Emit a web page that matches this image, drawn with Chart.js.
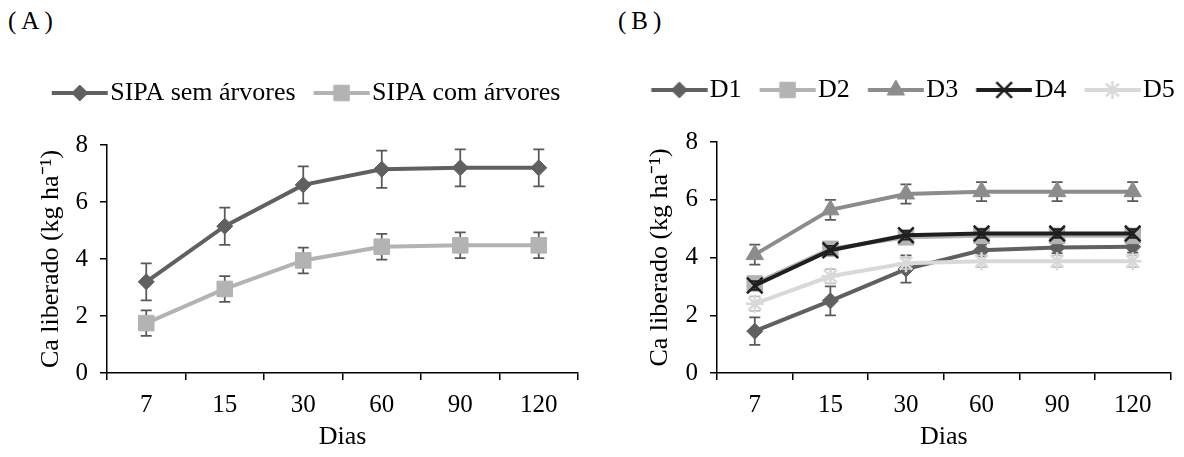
<!DOCTYPE html>
<html>
<head>
<meta charset="utf-8">
<script src="https://cdn.jsdelivr.net/npm/chart.js@4.4.1/dist/chart.umd.min.js"></script>
<style>
  body { margin: 0; background: #fff; width: 1184px; height: 457px; position: relative; overflow: hidden; }
  .tag { position: absolute; top: 8px; font-family: "Liberation Serif", "Times New Roman", serif; font-size: 25px; line-height: 25px; letter-spacing: 5px; color: #000; }
  canvas { position: absolute; top: 0; }
</style>
</head>
<body>
<div class="tag" style="left:8px">(A)</div>
<div class="tag" style="left:618px">(B)</div>
<canvas id="chartA" width="590" height="457" style="left:0"></canvas>
<canvas id="chartB" width="594" height="457" style="left:590px"></canvas>
<script>
// categories (days)
const dias = ['7', '15', '30', '60', '90', '120'];

// (A) SIPA with / without trees
const sipaSem = [3.2, 5.15, 6.6, 7.15, 7.2, 7.2];
const sipaSemErr = [0.65, 0.65, 0.65, 0.65, 0.65, 0.65];
const sipaCom = [1.75, 2.95, 3.95, 4.43, 4.48, 4.48];
const sipaComErr = [0.45, 0.45, 0.45, 0.45, 0.45, 0.45];

// (B) D1..D5
const d1 = [1.45, 2.5, 3.6, 4.25, 4.35, 4.37];
const d1Err = [0.48, 0.5, 0.47, 0.2, 0.2, 0.2];
const d2 = [3.1, 4.3, 4.7, 4.75, 4.75, 4.75];
const d2Err = [0.2, 0.2, 0.2, 0.2, 0.2, 0.2];
const d3 = [4.1, 5.65, 6.2, 6.28, 6.28, 6.28];
const d3Err = [0.35, 0.35, 0.33, 0.33, 0.33, 0.33];
const d4 = [3.03, 4.25, 4.77, 4.83, 4.83, 4.83];
const d4Err = [0.15, 0.15, 0.15, 0.15, 0.15, 0.15];
const d5 = [2.4, 3.35, 3.8, 3.87, 3.87, 3.87];
const d5Err = [0.25, 0.25, 0.2, 0.2, 0.2, 0.2];

const FONT = "'Liberation Serif', 'Times New Roman', serif";
Chart.defaults.font.family = FONT;
Chart.defaults.font.size = 25;
Chart.defaults.color = '#000';

//error bars, drawn just before each dataset so the markers sit on top
const errorBars = {
    id: 'errorBars',
    beforeDatasetDraw(chart, args) {
        const ds = chart.data.datasets[args.index];
        if (!ds.errors) return;
        const y = chart.scales.y;
        const ctx = chart.ctx;
        ctx.save();
        ctx.strokeStyle = ds.errorColor;
        ctx.lineWidth = 1.75;
        args.meta.data.forEach((pt, i) => {
            const top = y.getPixelForValue(ds.data[i] + ds.errors[i]);
            const bot = y.getPixelForValue(ds.data[i] - ds.errors[i]);
            ctx.beginPath();
            ctx.moveTo(pt.x, top); ctx.lineTo(pt.x, bot);
            ctx.moveTo(pt.x - 5.5, top); ctx.lineTo(pt.x + 5.5, top);
            ctx.moveTo(pt.x - 5.5, bot); ctx.lineTo(pt.x + 5.5, bot);
            ctx.stroke();
        });
        ctx.restore();
    }
};

//legend: keep it on one row and leave room below it before the plot starts
const legendSpace = {
    id: 'legendSpace',
    afterInit(chart, args, opts) {
        const lg = chart.legend;
        const fit = lg.fit.bind(lg);
        lg.fit = function () {
            const mw = this.maxWidth;
            this.maxWidth = mw + 60;
            fit();
            this.maxWidth = mw;
            this.width = mw;
            this.height += opts.extra;
        };
    }
};

//line + marker icon for the legend (excel style)
function legendIcon(ds) {
    const c = document.createElement('canvas');
    c.width = 83; c.height = 30;
    const ctx = c.getContext('2d');
    ctx.strokeStyle = ds.borderColor;
    ctx.lineWidth = ds.borderWidth;
    ctx.beginPath(); ctx.moveTo(26.75, 15); ctx.lineTo(82.75, 15); ctx.stroke();
    ctx.fillStyle = ds.pointBackgroundColor;
    ctx.strokeStyle = ds.pointBorderColor;
    ctx.lineWidth = ds.pointBorderWidth;
    Chart.helpers.drawPoint(ctx, { pointStyle: ds.pointStyle, radius: ds.pointRadius, borderWidth: ds.pointBorderWidth, rotation: 0 }, 54.75, 15);
    return c;
}

function series(label, data, errors, color, errorColor, style, radius, borderWidth, order) {
    return {
        label: label,
        data: data,
        errors: errors,
        errorColor: errorColor,
        borderColor: color,
        backgroundColor: color,
        borderWidth: 4,
        tension: 0,
        pointStyle: style,
        pointRadius: radius,
        pointHoverRadius: radius,
        pointBackgroundColor: color,
        pointBorderColor: color,
        pointBorderWidth: borderWidth,
        order: order
    };
}

function makeOptions(padL, padTop, padR, yWidth, titlePad) {
    return {
        responsive: false,
        animation: false,
        layout: { padding: { left: padL, right: padR, top: padTop, bottom: 0 } },
        plugins: {
            tooltip: { enabled: false },
            legendSpace: { extra: 29 },
            legend: {
                position: 'top',
                labels: {
                    usePointStyle: true,
                    pointStyleWidth: 61.5,
                    padding: 2,
                    font: { size: 26, family: FONT },
                    generateLabels(chart) {
                        return chart.data.datasets.map((ds, i) => ({
                            text: ds.label,
                            pointStyle: legendIcon(ds),
                            datasetIndex: i,
                            hidden: false,
                            lineWidth: 0,
                            fillStyle: ds.borderColor,
                            strokeStyle: ds.borderColor,
                            fontColor: '#000'
                        }));
                    }
                }
            }
        },
        scales: {
            x: {
                type: 'category',
                offset: true,
                grid: { offset: true, drawOnChartArea: false, color: '#000', lineWidth: 1.5, tickLength: 7 },
                border: { color: '#000', width: 1.5 },
                ticks: { padding: 10, font: { size: 25 } },
                title: { display: true, text: 'Dias', font: { size: 26 }, padding: { top: 0, bottom: 4.4 } },
                afterFit(s) { s.height = 84; }
            },
            y: {
                min: 0,
                max: 8,
                ticks: { stepSize: 2, padding: 12, font: { size: 25 } },
                grid: { drawOnChartArea: false, color: '#000', lineWidth: 1.5, tickLength: 7 },
                border: { color: '#000', width: 1.5 },
                title: { display: true, text: 'Ca liberado (kg ha⁻¹)', font: { size: 26 }, padding: { top: titlePad, bottom: 0 } },
                afterFit(s) { s.width = yWidth; }
            }
        }
    };
}

// -- chart A --
new Chart(document.getElementById('chartA'), {
    type: 'line',
    data: {
        labels: dias,
        datasets: [
            series('SIPA sem árvores', sipaSem, sipaSemErr, '#606060', '#595959', 'rectRot', 8, 1, 0),
            series('SIPA com árvores', sipaCom, sipaComErr, '#b3b3b3', '#595959', 'rect', 11, 1, -1)
        ]
    },
    options: makeOptions(16, 78, 10, 91, 19.4),
    plugins: [errorBars, legendSpace]
});

// -- chart B --
new Chart(document.getElementById('chartB'), {
    type: 'line',
    data: {
        labels: dias,
        datasets: [
            series('D1', d1, d1Err, '#606060', '#595959', 'rectRot', 8, 1, 0),
            series('D2', d2, d2Err, '#b3b3b3', '#7f7f7f', 'rect', 11, 1, -1),
            series('D3', d3, d3Err, '#8c8c8c', '#595959', 'triangle', 10, 1, -2),
            series('D4', d4, d4Err, '#1f1f1f', '#1f1f1f', 'crossRot', 11, 2.5, -3),
            series('D5', d5, d5Err, '#d9d9d9', '#bfbfbf', 'star', 9, 2.5, -4)
        ]
    },
    options: makeOptions(41, 75, 5, 86, 13.4),
    plugins: [errorBars, legendSpace]
});
</script>
</body>
</html>
